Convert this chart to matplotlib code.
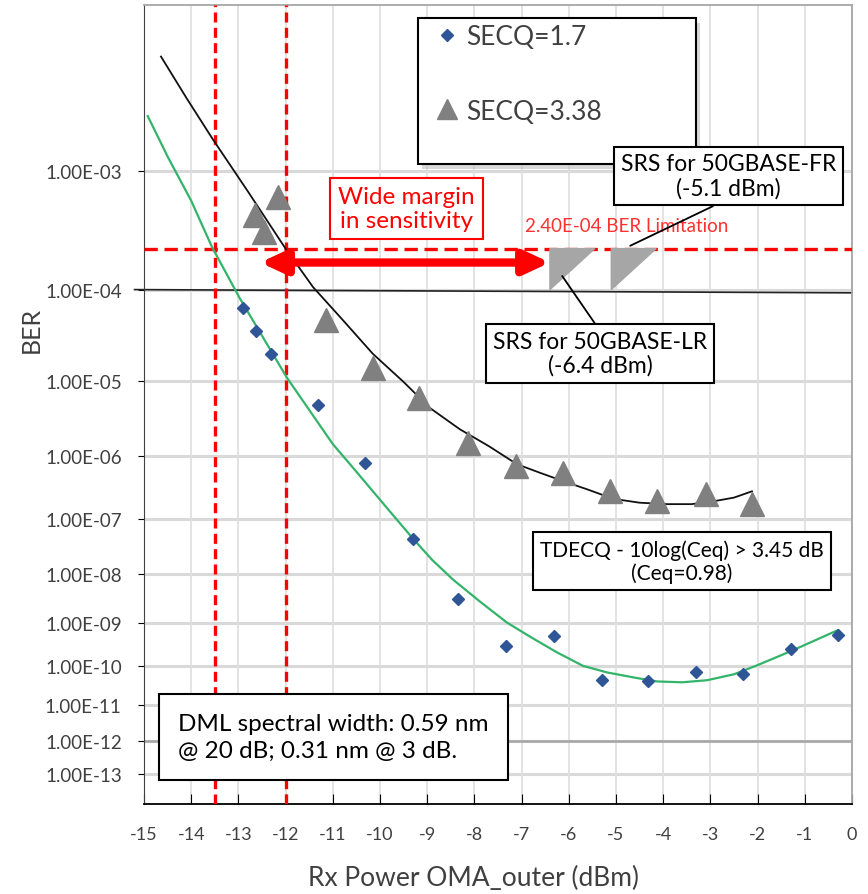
import numpy as np
import matplotlib
matplotlib.use('Agg')
from matplotlib import pyplot as plt
from matplotlib.lines import Line2D
from matplotlib.patches import Rectangle

plt.rcParams['font.family'] = ['Lato', 'DejaVu Sans']

# ---------------- data ----------------
# SECQ=1.7 measured points
secq17_x = [-12.90, -12.63, -12.31, -11.31, -10.32, -9.30, -8.35, -7.33, -6.31,
            -5.30, -4.32, -3.31, -2.31, -1.29, -0.30]
secq17_ber = [6.5e-5, 3.8e-5, 2.1e-5, 5.1e-6, 7.9e-7, 4.6e-8, 3.2e-9, 2.9e-10, 5.0e-10,
              4.4e-11, 4.1e-11, 6.9e-11, 6.2e-11, 2.5e-10, 5.3e-10]
# SECQ=3.38 measured points
secq338_x = [-12.65, -12.46, -12.16, -11.14, -10.15, -9.17, -8.14, -7.12, -6.12,
             -5.13, -4.13, -3.09, -2.12]
secq338_ber = [4.6e-4, 3.35e-4, 6.4e-4, 4.9e-5, 1.46e-5, 6.2e-6, 1.55e-6, 7.1e-7, 5.5e-7,
               2.9e-7, 2.0e-7, 2.6e-7, 1.8e-7]
# trend lines
fit17_x = [-14.92, -14.5, -14.0, -13.56, -12.97, -11.97, -11.00, -10.6, -10.15, -9.7,
           -9.30, -8.9, -8.45, -7.88, -7.31, -6.8, -6.25, -5.7, -5.19, -4.6, -4.13,
           -3.6, -3.07, -2.5, -2.01, -1.5, -1.10, -0.30]
fit17_ber = [2.39e-3, 1.28e-3, 6.0e-4, 2.48e-4, 8.2e-5, 1.1e-5, 1.49e-6, 7.1e-7, 2.9e-7, 1.12e-7,
             4.6e-8, 1.9e-8, 7.8e-9, 2.8e-9, 1.0e-9, 4.7e-10, 2.1e-10, 1.0e-10, 6.9e-11, 5.1e-11,
             4.1e-11, 3.9e-11, 4.4e-11, 6.2e-11, 1.03e-10, 1.8e-10, 2.8e-10, 6.8e-10]
fit338_x = [-14.64, -14.1, -13.54, -12.8, -12.01, -11.42, -10.8, -10.15, -9.5, -8.94,
            -8.31, -7.7, -7.10, -6.6, -6.12, -5.6, -5.06, -4.5, -3.92, -3.4, -2.94,
            -2.5, -2.12]
fit338_ber = [5.4e-3, 3.1e-3, 1.68e-3, 7.1e-4, 2.43e-4, 1.06e-4, 5.0e-5, 2.1e-5, 9.8e-6, 4.6e-6,
              2.4e-6, 1.4e-6, 7.6e-7, 5.6e-7, 4.2e-7, 3.1e-7, 2.2e-7, 1.9e-7, 1.8e-7, 1.8e-7,
              2.0e-7, 2.3e-7, 2.9e-7]
# reference lines
ref_x = [-15.2, 0]
ref_ber = [1.0e-4, 9.3e-5]
ber_limit = 2.4e-4
floor_ber = 1e-12
vlines_x = [-13.5, -12]
srs_x = [-6.4, -5.1]
srs_w = 0.95
srs_top, srs_bot = 2.4e-4, 1.0e-4
arrow_x = [-12.54, -6.4]
arrow_ber = 1.8e-4

ytick_vals = [10.0 ** -k for k in range(3, 14)]
ytick_labels = ['1.00E-%02d' % k for k in range(3, 14)]
xtick_vals = list(range(-15, 1))


def fwd(y):
    with np.errstate(all='ignore'):
        return -np.log10(-np.log10(y))


def inv(u):
    return 10.0 ** (-(10.0 ** (-u)))


fig = plt.figure(figsize=(8.68, 8.95), dpi=100)
ax = fig.add_axes([144/868, 1-805/895, 708/868, 799/895])
ax.set_yscale('function', functions=(fwd, inv))
ax.set_xlim(-15, 0)
ax.set_ylim(1e-14, 1e-2)

ax.set_yticks(ytick_vals)
ax.set_yticklabels(ytick_labels)
ax.yaxis.set_minor_locator(matplotlib.ticker.NullLocator())
ax.set_xticks(xtick_vals)
ax.set_xticklabels([str(v) for v in xtick_vals])

for y in ytick_vals:
    ax.axhline(y, color='#d9d9d9', lw=2.2, zorder=0)
for x in xtick_vals:
    ax.axvline(x, color='#dedede', lw=1.2, zorder=0)

ax.tick_params(axis='y', direction='out', length=4, pad=12, labelsize=13.5, labelcolor='#404040')
ax.tick_params(axis='x', direction='in', length=7, pad=16, labelsize=13, labelcolor='#404040')
for s in ['top', 'right']:
    ax.spines[s].set_color('#a6a6a6')
    ax.spines[s].set_linewidth(1.3)
ax.spines['left'].set_color('#404040')
ax.spines['bottom'].set_color('#000000')
ax.spines['bottom'].set_linewidth(1.3)

ax.set_ylabel('BER', fontsize=18, color='#404040')
ax.yaxis.set_label_coords(-0.143, 0.594)
ax.set_xlabel('Rx Power OMA_outer (dBm)', fontsize=19, color='#404040')
ax.xaxis.set_label_coords(0.465, -0.076)

# reference lines
ax.axhline(floor_ber, color='#a6a6a6', lw=1.8, zorder=1)
ax.plot(ref_x, ref_ber, color='#222222', lw=1.2, clip_on=False, zorder=2)
ax.axhline(ber_limit, color='#ff0000', lw=2.4, dashes=(4, 2), zorder=3)
for vx in vlines_x:
    ax.axvline(vx, color='#ff0000', lw=2.4, dashes=(3, 1.6), zorder=3)

# fits and points
ax.plot(fit17_x, fit17_ber, color='#33b46a', lw=1.6, zorder=4)
ax.plot(fit338_x, fit338_ber, color='#111111', lw=1.3, zorder=4)
ax.plot(secq17_x, secq17_ber, 'D', color='#2f5597', ms=6.5, zorder=5)
ax.plot(secq338_x, secq338_ber, '^', color='#808080', ms=17, zorder=5)

# SRS markers
for sx in srs_x:
    ax.fill([sx, sx + srs_w, sx], [srs_top, srs_top, srs_bot], color='#a6a6a6', zorder=6)

# wide-margin arrow
ax.annotate('', xy=(arrow_x[0], arrow_ber), xytext=(arrow_x[1], arrow_ber),
            arrowprops=dict(arrowstyle='<|-|>,head_length=0.75,head_width=0.35',
                            mutation_scale=20, lw=6, color='#ff0000',
                            shrinkA=0, shrinkB=0), zorder=7)

ax.text(0.538, 0.7235, '2.40E-04 BER Limitation', transform=ax.transAxes,
        color='#ff3030', fontsize=13.5, va='center', ha='left')

ax.text(0.371, 0.745, 'Wide margin\nin sensitivity', transform=ax.transAxes,
        color='#ff0000', fontsize=17.5, ha='center', va='center', linespacing=1.15,
        bbox=dict(boxstyle='square,pad=0.33', fc='white', ec='#ff0000', lw=1.5), zorder=8)

# legend box
lx0, ly0 = (418-144)/708, (805-165)/799
lw_, lh_ = (696-418)/708, (165-19)/799
ax.add_patch(Rectangle((lx0 + 0.006, ly0 - 0.006), lw_, lh_, transform=ax.transAxes,
                       fc='#bfbfbf', ec='none', alpha=0.6, zorder=8))
ax.add_patch(Rectangle((lx0, ly0), lw_, lh_, transform=ax.transAxes,
                       fc='white', ec='black', lw=1.5, zorder=9))
handles = [Line2D([], [], ls='none', marker='D', color='#2f5597', ms=6.5),
           Line2D([], [], ls='none', marker='^', color='#808080', ms=14)]
leg = ax.legend(handles, ['SECQ=1.7', 'SECQ=3.38'], loc='upper left',
                bbox_to_anchor=(lx0 - 0.007, 0.999), frameon=False, fontsize=19,
                labelspacing=1.87, handlelength=1.2, handletextpad=0.1, borderpad=0.2)
for t in leg.get_texts():
    t.set_color('#404040')
leg.set_zorder(10)

box = dict(boxstyle='square,pad=0.3', fc='white', ec='black', lw=1.5)
ax.annotate('SRS for 50GBASE-FR\n(-5.1 dBm)', xy=(-4.7, 2.54e-4), xycoords='data',
            xytext=(0.826, 0.786), textcoords='axes fraction', fontsize=16.5,
            ha='center', va='center', linespacing=1.15, bbox=box, zorder=11,
            arrowprops=dict(arrowstyle='-', color='black', lw=1.3, relpos=(0.5, 0),
                            shrinkA=0, shrinkB=0))
ax.annotate('SRS for 50GBASE-LR\n(-6.4 dBm)', xy=(-6.14, 1.35e-4), xycoords='data',
            xytext=(0.644, 0.564), textcoords='axes fraction', fontsize=16.5,
            ha='center', va='center', linespacing=1.15, bbox=box, zorder=11,
            arrowprops=dict(arrowstyle='-', color='black', lw=1.3, relpos=(0.5, 1),
                            shrinkA=0, shrinkB=0))
ax.text(0.760, 0.304, 'TDECQ - 10log(Ceq) > 3.45 dB\n(Ceq=0.98)', transform=ax.transAxes,
        fontsize=15, ha='center', va='center', linespacing=1.15,
        bbox=dict(boxstyle='square,pad=0.35', fc='white', ec='black', lw=1.5), zorder=11)
ax.text(0.268, 0.084, 'DML spectral width: 0.59 nm\n@ 20 dB; 0.31 nm @ 3 dB.',
        transform=ax.transAxes, fontsize=17.5, ha='center', va='center', multialignment='left',
        linespacing=1.3, bbox=dict(boxstyle='square,pad=0.8', fc='white', ec='black', lw=1.5),
        zorder=11)

fig.savefig('out.png', dpi=100)
